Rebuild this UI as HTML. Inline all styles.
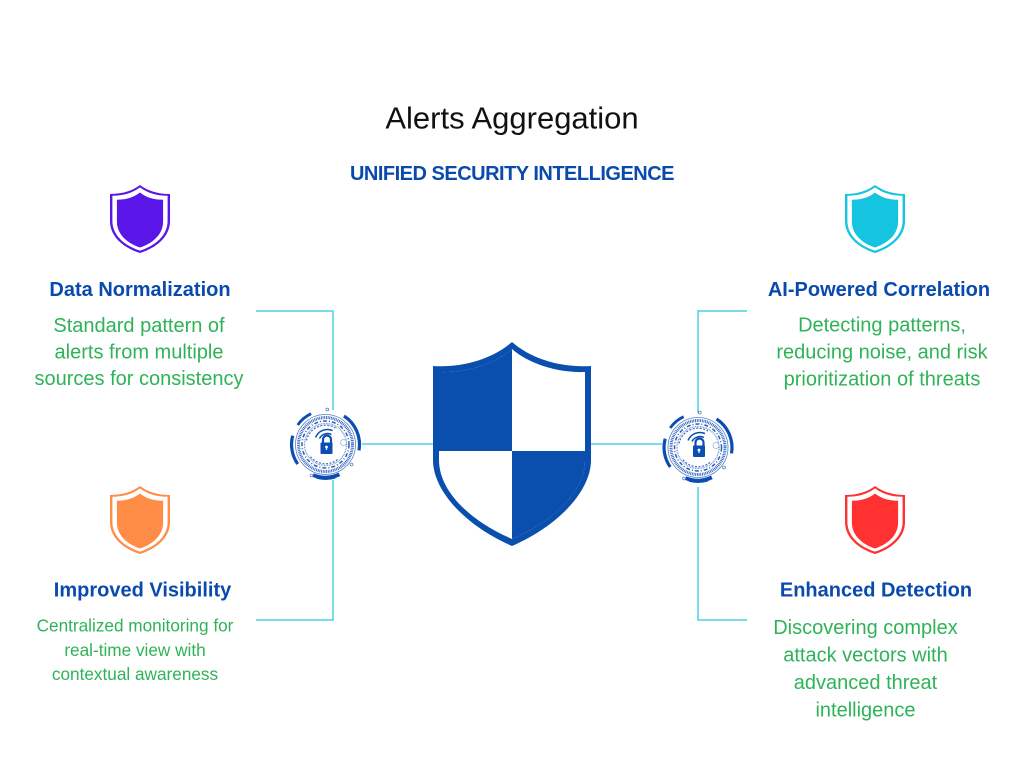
<!DOCTYPE html>
<html>
<head>
<meta charset="utf-8">
<style>
html,body{margin:0;padding:0;background:#fff;}
svg{display:block;}
text{font-family:"Liberation Sans", Arial, sans-serif;}
.h{font-weight:bold;font-size:20px;fill:#0a4aad;text-anchor:middle;}
.b{font-size:20px;fill:#2fb358;}
.s{font-size:17.2px;fill:#2fb358;}
</style>
</head>
<body>
<svg width="1024" height="768" viewBox="0 0 1024 768" xmlns="http://www.w3.org/2000/svg">
<defs>
  <clipPath id="inner">
    <path d="M512,349 C529,364 558,373 585,372 L585,460 C585,490 556,520 512,539 C468,520 439,490 439,460 L439,372 C466,373 495,364 512,349 Z"/>
  </clipPath>
  <g id="ring">
    <path d="M18.5,-28.5 A34,34 0 0 1 33.5,5.9" fill="none" stroke="#0b4db3" stroke-width="3.2"/>
    <path d="M-14.4,-30.8 A34,34 0 0 0 -27.8,-19.5" fill="none" stroke="#0b4db3" stroke-width="2.8"/>
    <path d="M-27.8,19.5 A34,34 0 0 1 -32.8,-8.8" fill="none" stroke="#0b4db3" stroke-width="3.2"/>
    <path d="M13.9,29.9 A33,33 0 0 1 -12.4,30.6" fill="none" stroke="#0b4db3" stroke-width="3.8"/>
    <path d="M10,33.5 A35,35 0 0 1 -9,33.8" fill="none" stroke="#0b4db3" stroke-width="1"/>
    <circle cx="1.8" cy="-35" r="1.4" fill="#fff" stroke="#5a82c8" stroke-width="0.8"/>
    <circle cx="-14" cy="31" r="1.4" fill="#fff" stroke="#5a82c8" stroke-width="0.8"/>
    <circle cx="26" cy="20" r="1.4" fill="#fff" stroke="#5a82c8" stroke-width="0.8"/>
    <circle r="30" fill="none" stroke="#5a82c8" stroke-width="0.8"/>
    <circle r="27" fill="none" stroke="#2f62bd" stroke-width="3" stroke-dasharray="0.9 0.8"/>
    <circle r="23.5" fill="none" stroke="#2b5fba" stroke-width="1.5" stroke-dasharray="4 2 1 2"/>
    <circle r="21" fill="none" stroke="#6a8fd0" stroke-width="1.4" stroke-dasharray="0.8 0.8"/>
    <path d="M-19,-4 A19.4,19.4 0 0 1 10,-16.5" fill="none" stroke="#3d6cc0" stroke-width="1.2" stroke-dasharray="2 1.5"/>
    <path d="M12,15 A19.4,19.4 0 0 1 -16,11" fill="none" stroke="#3d6cc0" stroke-width="1.2" stroke-dasharray="2 1.5"/>
    <circle cx="18" cy="-2" r="3" fill="#fff" stroke="#9ab0d8" stroke-width="0.8"/>
    <path d="M-6,-6 A9,9 0 0 1 6,-10" fill="none" stroke="#0b4db3" stroke-width="1.5"/>
    <path d="M-10,-7 A13,13 0 0 1 7,-14" fill="none" stroke="#0b4db3" stroke-width="1.5"/>
    <path d="M-2.5,-1 V-5 A4,4 0 0 1 5.5,-5 V-1" fill="none" stroke="#0b4db3" stroke-width="2.2"/>
    <rect x="-5" y="-2" width="12" height="11.5" rx="1" fill="#0b4db3"/>
    <circle cx="1" cy="2.5" r="1.4" fill="#fff"/>
    <rect x="0.4" y="2.5" width="1.2" height="3" fill="#fff"/>
  </g>
  <path id="sh" d="M30,0 C38,6 48,9 60,9 L60,36 C60,52 46,63 30,68 C14,63 0,52 0,36 L0,9 C12,9 22,6 30,0 Z"/>
</defs>

<text x="512" y="128.5" text-anchor="middle" style="font-size:31px;fill:#111;">Alerts Aggregation</text>
<text x="512" y="180" text-anchor="middle" style="font-size:20px;font-weight:bold;fill:#0a4aad;letter-spacing:-0.5px;">UNIFIED SECURITY INTELLIGENCE</text>

<g transform="translate(110,185)">
  <use href="#sh" fill="#5a16e8"/>
  <use href="#sh" fill="#fff" transform="translate(30,34) scale(0.92,0.93) translate(-30,-34)"/>
  <use href="#sh" fill="#5a16e8" transform="translate(30,35) scale(0.77,0.81) translate(-30,-34)"/>
</g>
<g transform="translate(845,185)">
  <use href="#sh" fill="#14c4e1"/>
  <use href="#sh" fill="#fff" transform="translate(30,34) scale(0.92,0.93) translate(-30,-34)"/>
  <use href="#sh" fill="#14c4e1" transform="translate(30,35) scale(0.77,0.81) translate(-30,-34)"/>
</g>
<g transform="translate(110,486)">
  <use href="#sh" fill="#ff8c47"/>
  <use href="#sh" fill="#fff" transform="translate(30,34) scale(0.92,0.93) translate(-30,-34)"/>
  <use href="#sh" fill="#ff8c47" transform="translate(30,35) scale(0.77,0.81) translate(-30,-34)"/>
</g>
<g transform="translate(845,486)">
  <use href="#sh" fill="#ff3131"/>
  <use href="#sh" fill="#fff" transform="translate(30,34) scale(0.92,0.93) translate(-30,-34)"/>
  <use href="#sh" fill="#ff3131" transform="translate(30,35) scale(0.77,0.81) translate(-30,-34)"/>
</g>

<g fill="none" stroke="#4fcfe6" stroke-width="1.5">
  <path d="M256,311 H333 V410"/>
  <path d="M362,444 H433"/>
  <path d="M333,480 V620 H256"/>
  <path d="M747,311 H698 V413"/>
  <path d="M591,444 H662"/>
  <path d="M698,487 V620 H747"/>
</g>

<path d="M512,342 C530,358 560,368 591,366 L591,460 C591,490 560,525 512,546 C464,525 433,490 433,460 L433,366 C464,368 494,358 512,342 Z" fill="#0a4eae"/>
<path d="M512,349 C529,364 558,373 585,372 L585,460 C585,490 556,520 512,539 C468,520 439,490 439,460 L439,372 C466,373 495,364 512,349 Z" fill="#fff"/>
<g clip-path="url(#inner)" fill="#0a4eae">
  <rect x="430" y="340" width="82" height="111"/>
  <rect x="512" y="451" width="82" height="100"/>
</g>

<use href="#ring" transform="translate(325.5,444.5)"/>
<use href="#ring" transform="translate(698,447.5)"/>

<text class="h" x="140" y="296">Data Normalization</text>
<text class="b" x="139" y="332" text-anchor="middle">Standard pattern of</text>
<text class="b" x="139" y="358.5" text-anchor="middle">alerts from multiple</text>
<text class="b" x="139" y="385" text-anchor="middle">sources for consistency</text>

<text class="h" x="142.5" y="596.5">Improved Visibility</text>
<text class="s" x="135" y="631.7" text-anchor="middle">Centralized monitoring for</text>
<text class="s" x="135" y="656" text-anchor="middle">real-time view with</text>
<text class="s" x="135" y="680.2" text-anchor="middle">contextual awareness</text>

<text class="h" x="879" y="296">AI-Powered Correlation</text>
<text class="b" x="882" y="331.7" text-anchor="middle">Detecting patterns,</text>
<text class="b" x="882" y="358.7" text-anchor="middle">reducing noise, and risk</text>
<text class="b" x="882" y="385.7" text-anchor="middle">prioritization of threats</text>

<text class="h" x="876" y="596.5">Enhanced Detection</text>
<text class="b" x="865.5" y="634" text-anchor="middle">Discovering complex</text>
<text class="b" x="865.5" y="661.5" text-anchor="middle">attack vectors with</text>
<text class="b" x="865.5" y="689" text-anchor="middle">advanced threat</text>
<text class="b" x="865.5" y="716.5" text-anchor="middle">intelligence</text>
</svg>
</body>
</html>
